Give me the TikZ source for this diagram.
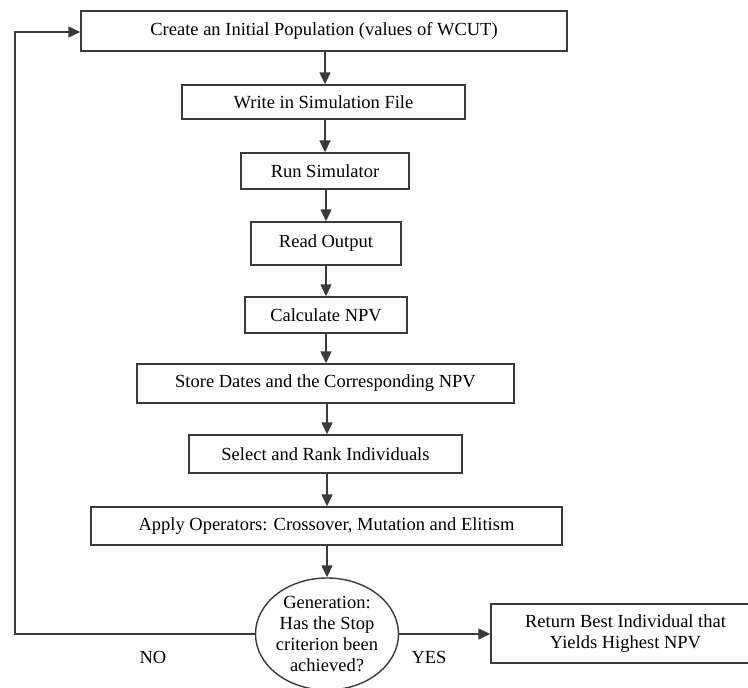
\documentclass[tikz,border=0pt]{standalone}
\usepackage{fontspec}
\setmainfont{Liberation Serif}
\usetikzlibrary{arrows.meta,shapes.geometric}
\definecolor{linegray}{HTML}{3A3A3A}
\begin{document}
\begin{tikzpicture}[x=1pt,y=-1pt,
  box/.style={draw=linegray, line width=1.4pt, inner sep=0pt, align=center,
              font=\fontsize{18.5}{21}\selectfont, text=black},
  flow/.style={draw=linegray, line width=1.4pt, -{Triangle[length=12pt,width=11pt]}},
  lbl/.style={font=\fontsize{18.5}{21}\selectfont, text=black}]
\useasboundingbox (0,0) rectangle (748,688);
\clip (0,0) rectangle (748,688);
\fill[white] (0,0) rectangle (748,688);

\node[box, minimum width=486pt, minimum height=40pt] (b1) at (324,31) {Create an Initial Population (values of WCUT)};
\node[box, minimum width=283pt, minimum height=34pt] (b2) at (323.5,102) {Write in Simulation File};
\node[box, minimum width=168pt, minimum height=36pt] (b3) at (325,171) {Run Simulator};
\node[box, minimum width=150pt, minimum height=43pt] (b4) at (326,243.5) {Read Output};
\node[box, minimum width=162pt, minimum height=36pt] (b5) at (326,315) {Calculate NPV};
\node[box, minimum width=377pt, minimum height=39pt] (b6) at (325.5,383.5) {Store Dates and the Corresponding NPV};
\node[box, minimum width=273pt, minimum height=38pt] (b7) at (325.5,454) {Select and Rank Individuals};
\node[box, minimum width=471pt, minimum height=38pt] (b8) at (326.5,526) {Apply Operators: Crossover, Mutation and Elitism};
\node[box, ellipse, minimum width=143pt, minimum height=112pt,
      label={[lbl, align=center]center:Generation:\\Has the Stop\\criterion been\\achieved?}] (dec) at (327,634) {};
\node[box, minimum width=269pt, minimum height=59pt] (b9) at (625.5,633.5) {Return Best Individual that\\Yields Highest NPV};

\draw[flow] (b1.south -| 325,0) -- (b2.north -| 325,0);
\draw[flow] (b2.south -| 325,0) -- (b3.north -| 325,0);
\draw[flow] (b3.south -| 326,0) -- (b4.north -| 326,0);
\draw[flow] (b4.south -| 326,0) -- (b5.north -| 326,0);
\draw[flow] (b5.south -| 326,0) -- (b6.north -| 326,0);
\draw[flow] (b6.south -| 327,0) -- (b7.north -| 327,0);
\draw[flow] (b7.south -| 327,0) -- (b8.north -| 327,0);
\draw[flow] (b8.south -| dec.north) -- (dec.north);
\draw[flow] (dec.east) -- (dec.east -| b9.west);

\coordinate (lb) at (15,634);
\coordinate (lt) at (15,32);
\draw[flow] (dec.west) -- (lb) -- (lt) -- (lt -| b1.west);

\node[lbl] (no) at (153,657) {NO};
\node[lbl] (yes) at (429,657) {YES};
\end{tikzpicture}
\end{document}
